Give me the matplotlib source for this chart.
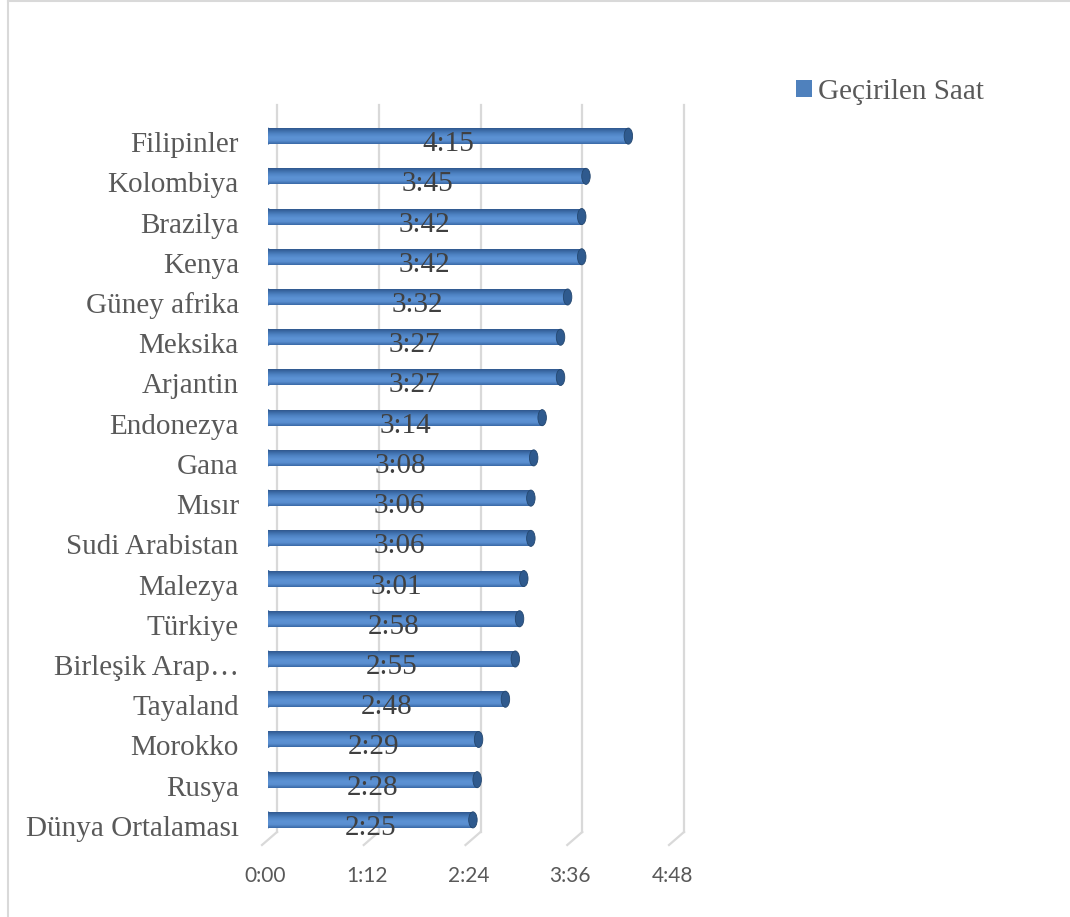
import numpy as np
import matplotlib
matplotlib.use("Agg")
import matplotlib.pyplot as plt
import matplotlib.transforms as mtransforms
from matplotlib.colors import LinearSegmentedColormap
from matplotlib.patches import Ellipse, Patch
from matplotlib.lines import Line2D

countries = ["Filipinler", "Kolombiya", "Brazilya", "Kenya", "Güney afrika", "Meksika",
             "Arjantin", "Endonezya", "Gana", "Mısır", "Sudi Arabistan", "Malezya",
             "Türkiye", "Birleşik Arap…", "Tayaland", "Morokko", "Rusya", "Dünya Ortalaması"]
hours = ["4:15", "3:45", "3:42", "3:42", "3:32", "3:27", "3:27", "3:14", "3:08", "3:06",
         "3:06", "3:01", "2:58", "2:55", "2:48", "2:29", "2:28", "2:25"]
tick_minutes = [0, 72, 144, 216, 288]
series_name = "Geçirilen Saat"


def to_min(s):
    h, m = s.split(":")
    return int(h) * 60 + int(m)


def fmt(m):
    return f"{int(m) // 60}:{int(m) % 60:02d}"


minutes = np.array([to_min(h) for h in hours])
# bottom-up order like Excel
cats = countries[::-1]
vals = minutes[::-1]
labs = hours[::-1]

plt.rcParams["font.family"] = "serif"
plt.rcParams["font.serif"] = ["Liberation Serif", "Times New Roman", "DejaVu Serif"]
GREY = "#595959"
FS = 21
W, H = 1070, 917
fig = plt.figure(figsize=(W / 100, H / 100), dpi=100)
ax = fig.add_axes([268 / W, 1 - 840 / H, 407 / W, 724 / H])
y = np.arange(len(cats))
bh = 0.4
ax.set_xlim(0, 288)
ax.set_ylim(-0.5, len(cats) - 0.5)

cyl = LinearSegmentedColormap.from_list("cyl", ["#3a69a6", "#5a8fd1", "#5c92d4",
                                                  "#4f84c5", "#3d6ca8", "#2b5184"])
grad = np.linspace(0, 1, 64).reshape(-1, 1)

# back gridlines with 3D foot
px = lambda d: mtransforms.ScaledTranslation(d / 100, 0, fig.dpi_scale_trans)
bt = mtransforms.blended_transform_factory(ax.transData, fig.transFigure)
for t in tick_minutes:
    ax.plot([t, t], [1 - 105 / H, 1 - 832 / H], color="#d9d9d9", lw=1.6,
            transform=bt + px(9), clip_on=False, zorder=0)
    p1 = (bt + px(9)).transform((t, 1 - 832 / H))
    p2 = (bt + px(-6)).transform((t, 1 - 845 / H))
    ax.add_line(Line2D([p1[0], p2[0]], [p1[1], p2[1]], color="#d9d9d9", lw=1.6,
                       transform=None, clip_on=False, zorder=0))

for yi, v, lab in zip(y, vals, labs):
    ax.add_patch(Ellipse((0, yi), 5, bh, facecolor="#4f82c2", edgecolor="#3f6ea9",
                         lw=0.6, zorder=2))
    bar = ax.barh(yi, v, height=bh, color="#4f81bd", lw=0, zorder=3)[0]
    im = ax.imshow(grad, cmap=cyl, aspect="auto", extent=[0, v, yi + bh / 2, yi - bh / 2],
                   zorder=3.5, interpolation="bilinear")
    im.set_clip_path(bar)
    ax.add_patch(Ellipse((v, yi), 6, bh, facecolor="#2f5a8e", edgecolor="#24476f",
                         lw=0.6, zorder=4))
    ax.text(v / 2, yi - 0.2, lab, ha="center", va="center", fontsize=FS,
            color="#404040", zorder=5)

ax.set_xlim(0, 288)
ax.set_ylim(-0.5, len(cats) - 0.5)
ax.set_yticks(y)
ax.set_yticklabels(cats, fontsize=FS, color=GREY)
ax.set_xticks(tick_minutes)
ax.set_xticklabels([fmt(t) for t in tick_minutes], family=["Lato", "DejaVu Sans"],
                   fontsize=15, color=GREY)
ax.tick_params(axis="y", length=0, pad=21)
ax.tick_params(axis="x", length=0, pad=19)
for lbl in ax.get_yticklabels():
    lbl.set_transform(lbl.get_transform() + mtransforms.ScaledTranslation(0, -6 / 100, fig.dpi_scale_trans))
for lbl in ax.get_xticklabels():
    lbl.set_transform(lbl.get_transform() + px(-3))
for s in ax.spines.values():
    s.set_visible(False)

fig.legend(handles=[Patch(facecolor="#4f81bd", edgecolor="none", label=series_name)],
           loc="center left", bbox_to_anchor=(770 / W, 1 - 92 / H), frameon=False,
           handlelength=0.55, handleheight=0.55, handletextpad=0.2,
           prop={"size": FS}, labelcolor=GREY)

# chart-area border (left & top visible)
fig.add_artist(Line2D([8 / W, 8 / W], [0, 1 - 1 / H], color="#d9d9d9", lw=1.5))
fig.add_artist(Line2D([8 / W, 1], [1 - 1 / H, 1 - 1 / H], color="#d9d9d9", lw=1.5))

fig.savefig("out.png", dpi=100)
